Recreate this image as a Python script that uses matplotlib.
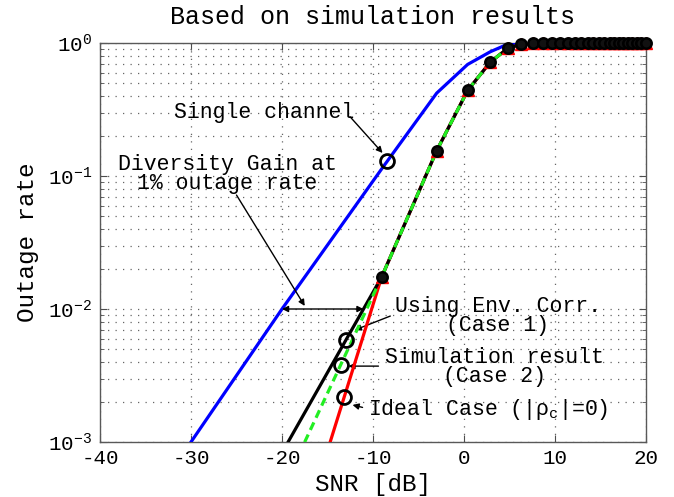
"""
Outage rate vs SNR, single channel vs diversity cases (simulation results).
"""

import matplotlib
matplotlib.use("Agg")
import matplotlib.pyplot as plt
import numpy as np
from matplotlib.ticker import LogLocator, NullFormatter, LogFormatterMathtext

plt.rcParams["font.family"] = ["Liberation Mono", "DejaVu Sans Mono"]
plt.rcParams["mathtext.fontset"] = "custom"
plt.rcParams["mathtext.rm"] = "Liberation Mono"
plt.rcParams["mathtext.it"] = "Liberation Mono"
plt.rcParams["axes.unicode_minus"] = False

# ---- data ----
snr_single = [-30, -20, -9.05, -3.0, 0.4, 2.9, 4.8, 6.3, 7.6, 8.7, 9.7, 10.6,
              11.4, 12.2, 12.9, 13.6, 14.2, 14.8, 15.4, 16.0, 16.5, 17.0,
              17.5, 18.0, 18.5, 19.0, 19.5, 20.0]
single_channel = [1.0e-3, 1.0e-2, 0.113, 0.42, 0.69, 0.86, 0.98, 1.0, 1.0, 1.0,
                  1.0, 1.0, 1.0, 1.0, 1.0, 1.0, 1.0, 1.0, 1.0, 1.0, 1.0, 1.0,
                  1.0, 1.0, 1.0, 1.0, 1.0, 1.0]

snr_div = [-20, -9.05, -3.0, 0.4, 2.9, 4.8, 6.3, 7.6, 8.7, 9.7, 10.6, 11.4,
           12.2, 12.9, 13.6, 14.2, 14.8, 15.4, 16.0, 16.5, 17.0, 17.5, 18.0,
           18.5, 19.0, 19.5, 20.0]
tail_ones = [1.0] * 20
env_corr = [8.3e-4, 0.0174, 0.155, 0.44, 0.72, 0.91, 0.98] + tail_ones
sim_case2 = [4.3e-4, 0.0174, 0.155, 0.44, 0.72, 0.91, 0.98] + tail_ones
ideal_case = [6.9e-5, 0.0174, 0.155, 0.44, 0.72, 0.91, 0.98] + tail_ones

# SNR points highlighted with open circles
circle_snr = {"single": -8.43, "env": -13.0, "sim": -13.55, "ideal": -13.15}


def interp_log(x, xs, ys):
    return 10 ** np.interp(x, xs, np.log10(ys))


fig = plt.figure(figsize=(6.74, 4.97), dpi=100)
fig.patch.set_facecolor("white")
ax = fig.add_axes([100 / 674, 1 - 442 / 497, 546 / 674, 399 / 497])

ax.semilogy(snr_single, single_channel, color="#0000ff", lw=2.3, zorder=3)
ax.semilogy(snr_div, ideal_case, color="#ff0000", lw=2.3, zorder=4)
ax.semilogy(snr_div, env_corr, color="black", lw=2.3, zorder=5)
ax.semilogy(snr_div, sim_case2, color="#22ee22", lw=2.3, zorder=6,
            linestyle=(0, (2.6, 1.6)))

# markers (only those inside the plotted range, allowed to spill over the frame)
snr_div_a = np.array(snr_div)
vis = np.array(ideal_case) >= 1e-3
ax.plot(snr_div_a[vis], np.array(ideal_case)[vis], linestyle="none", marker="^",
        ms=8.5, color="#ff0000", clip_on=False, zorder=7)
vis = np.array(env_corr) >= 1e-3
ax.plot(snr_div_a[vis], np.array(env_corr)[vis], linestyle="none", marker="o",
        ms=7.5, mfc="#111111", mec="black", mew=1.8, clip_on=False, zorder=8)

# highlight circles
pts = [
    (circle_snr["single"], snr_single, single_channel),
    (circle_snr["env"], snr_div, env_corr),
    (circle_snr["sim"], snr_div, sim_case2),
    (circle_snr["ideal"], snr_div, ideal_case),
]
for x, xs, ys in pts:
    ax.plot([x], [interp_log(x, xs, ys)], marker="o", ms=10, mfc="none",
            mec="black", mew=2, zorder=9)

ax.set_xlim(-40, 20)
ax.set_ylim(1e-3, 1)
ax.set_xticks([-40, -30, -20, -10, 0, 10, 20])
ax.yaxis.set_major_locator(LogLocator(base=10, numticks=10))
ax.yaxis.set_major_formatter(LogFormatterMathtext())
ax.yaxis.set_minor_locator(LogLocator(base=10, subs=np.arange(2, 10), numticks=20))
ax.yaxis.set_minor_formatter(NullFormatter())

ax.grid(True, which="both", color="0.4", linestyle=(0, (1, 5)), lw=0.9)
ax.tick_params(which="both", direction="in", top=True, right=True,
               labelsize=15, color="0.3")
ax.tick_params(which="major", length=5)
ax.tick_params(axis="y", which="major", pad=6)
ax.tick_params(axis="x", which="major", pad=5)
ax.tick_params(which="minor", length=3)
for sp in ax.spines.values():
    sp.set_color("0.35")
    sp.set_linewidth(1.0)

ax.set_title("Based on simulation results", fontsize=18, pad=14)
fig.text(28 / 674, 1 - 242 / 497, "Outage rate", rotation=90,
         ha="center", va="center", fontsize=17.5)
fig.text(373 / 674, 1 - 485 / 497, "SNR [dB]", ha="center", va="center",
         fontsize=17.5)

txt = dict(fontsize=15.5, zorder=10)
arw = dict(arrowstyle="-|>", color="black", lw=1.0, mutation_scale=9,
           shrinkA=0, shrinkB=0)

ax.text(-22.0, 0.30, "Single channel", ha="center", va="center", **txt)
ax.annotate("", xy=(-8.95, 0.149), xytext=(-12.5, 0.278), arrowprops=arw)

ax.text(-26.0, 0.1035, "Diversity Gain at\n1% outage rate", ha="center",
        va="center", multialignment="center", linespacing=0.85, **txt)
ax.annotate("", xy=(-17.5, 0.01054), xytext=(-25.0, 0.0719), arrowprops=arw)

# diversity gain span at 1% outage
x_left = np.interp(-2.0, np.log10(single_channel[:3]), snr_single[:3])
x_right = np.interp(-2.0, np.log10(env_corr[:3]), snr_div[:3])
ax.annotate("", xy=(x_left, 1e-2), xytext=(x_right, 1e-2),
            arrowprops=dict(arrowstyle="<|-|>", color="black", lw=1.0,
                            mutation_scale=9, shrinkA=0, shrinkB=0))

ax.text(3.7, 8.9e-3, "Using Env. Corr.\n(Case 1)", ha="center", va="center",
        multialignment="center", linespacing=0.85, **txt)
ax.annotate("", xy=(-12.0, 6.95e-3), xytext=(-8.1, 8.85e-3), arrowprops=arw)

ax.text(3.3, 3.66e-3, "Simulation result\n(Case 2)", ha="center", va="center",
        multialignment="center", linespacing=0.85, **txt)
ax.annotate("", xy=(-12.7, 3.72e-3), xytext=(-9.4, 3.72e-3), arrowprops=arw)

ax.text(-10.5, 1.6e-3, r"Ideal Case (|$\rho_{c}$|=0)", ha="left",
        va="baseline", **txt)
ax.annotate("", xy=(-12.25, 1.9e-3), xytext=(-11.15, 1.82e-3), arrowprops=arw)

fig.savefig("out.png", dpi=100, facecolor="white")
